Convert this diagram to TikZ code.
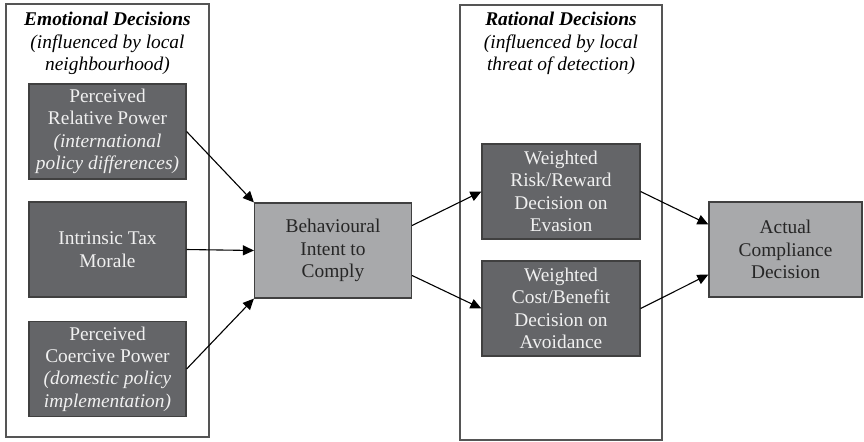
\documentclass[tikz,border=0pt]{standalone}
\usepackage{fontspec}
\setmainfont{Liberation Serif}
\usepackage{xcolor}
\usetikzlibrary{positioning, arrows.meta}

\definecolor{darkfill}{RGB}{100,101,104}
\definecolor{lightfill}{RGB}{168,169,171}
\definecolor{frameline}{RGB}{85,85,85}

\begin{document}
\begin{tikzpicture}[
    x=0.5pt, y=-0.5pt,
    font=\fontsize{9.7}{11.2}\selectfont,
    frame/.style={rectangle, draw=frameline, line width=0.75pt, fill=white},
    darkbox/.style={rectangle, draw=black!75, fill=darkfill, text=white!94!black, line width=0.6pt, minimum width=78.5pt, minimum height=47.5pt, align=center, inner sep=1pt},
    lightbox/.style={rectangle, draw=black!75, fill=lightfill, text=black!85, line width=0.6pt, minimum width=78.5pt, minimum height=47.5pt, align=center, inner sep=1pt},
    heading/.style={align=center, inner sep=0pt, anchor=north},
    arrow/.style={-{Triangle[length=5.5pt, width=5pt]}, line width=0.55pt}
]
\useasboundingbox (0,0) rectangle (864,441);

% Frames
\node[frame, minimum width=101.5pt, minimum height=216.5pt] (emotional) at (107.5,220.5) {};
\node[frame, minimum width=101pt, minimum height=217.5pt] (rational) at (561,222.5) {};
\node[heading] (emotionaltitle) at (107.5,12) {\textbf{\textit{Emotional Decisions}}\\\textit{(influenced by local}\\\textit{neighbourhood)}};
\node[heading] (rationaltitle) at (561,12) {\textbf{\textit{Rational Decisions}}\\\textit{(influenced by local}\\\textit{threat of detection)}};

% Nodes
\node[darkbox] (relative) at (107.5,131.5) {Perceived\\Relative Power\\\textit{(international}\\\textit{policy differences)}};
\node[darkbox] (morale) at (107.5,249.5) {Intrinsic Tax\\Morale};
\node[darkbox] (coercive) at (107.5,369) {Perceived\\Coercive Power\\\textit{(domestic policy}\\\textit{implementation)}};
\node[lightbox] (intent) at (333,250.5) {Behavioural\\Intent to\\Comply};
\node[darkbox, minimum width=79pt] (evasion) at (561,191.5) {Weighted\\Risk/Reward\\Decision on\\Evasion};
\node[darkbox, minimum width=79pt] (avoidance) at (561,308.5) {Weighted\\Cost/Benefit\\Decision on\\Avoidance};
\node[lightbox, minimum width=76.5pt] (actual) at (785.5,249.5) {Actual\\Compliance\\Decision};

% Arrows
\draw[arrow] (relative.east) -- (intent.north west);
\draw[arrow] (morale.east) -- (intent.west);
\draw[arrow] (coercive.east) -- (intent.south west);
\draw[arrow] ([yshift=12.5pt]intent.east) -- (evasion.west);
\draw[arrow] ([yshift=-12.5pt]intent.east) -- (avoidance.west);
\draw[arrow] (evasion.east) -- ([yshift=12.5pt]actual.west);
\draw[arrow] (avoidance.east) -- ([yshift=-12.5pt]actual.west);

\end{tikzpicture}
\end{document}
